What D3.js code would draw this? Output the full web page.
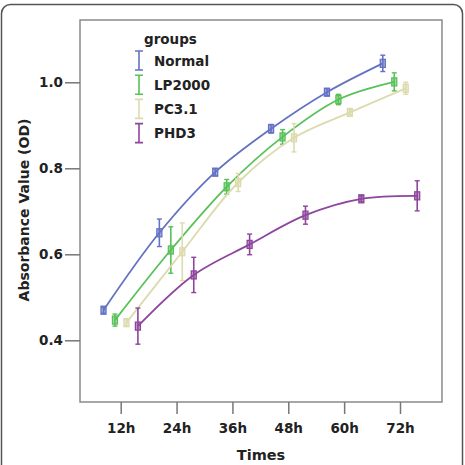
<!DOCTYPE html>
<html>
<head>
<meta charset="utf-8">
<script src="https://cdn.jsdelivr.net/npm/d3@7"></script>
<style>
  html, body { margin: 0; padding: 0; background: #fff; }
  svg text { font-family: "DejaVu Sans", Verdana, sans-serif; font-weight: bold; fill: #222; }
</style>
</head>
<body>
<div id="chart"></div>
<script>
(function () {

    "use strict";

    // Chart values
    var times = ["12h", "24h", "36h", "48h", "60h", "72h"],
        groups = ["Normal", "LP2000", "PC3.1", "PHD3"],
        colors = ["#6472c4", "#58c158", "#dcdbae", "#8e459c"],
        yTicks = [0.4, 0.6, 0.8, 1.0];

    var normalMean = [0.470, 0.650, 0.791, 0.892, 0.977, 1.044],
        normalErr = [0.007, 0.032, 0.008, 0.010, 0.008, 0.019],
        lp2000Mean = [0.447, 0.610, 0.757, 0.873, 0.960, 1.001],
        lp2000Err = [0.014, 0.054, 0.017, 0.017, 0.012, 0.021],
        pc31Mean = [0.441, 0.606, 0.767, 0.871, 0.930, 0.986],
        pc31Err = [0.008, 0.067, 0.021, 0.033, 0.006, 0.014],
        phd3Mean = [0.433, 0.552, 0.623, 0.691, 0.729, 0.736],
        phd3Err = [0.042, 0.041, 0.024, 0.021, 0.007, 0.035];

    var means = [normalMean, lp2000Mean, pc31Mean, phd3Mean],
        errs = [normalErr, lp2000Err, pc31Err, phd3Err];

    var width = 465, height = 465,
        left = 80, top = 20, right = 442, bottom = 402;

    var svg = d3.select("#chart").append("svg")
        .attr("width", width)
        .attr("height", height);

    // outer rounded frame of the figure
    svg.append("rect")
        .attr("x", 1.5).attr("y", 4.5)
        .attr("width", 461).attr("height", 480)
        .attr("rx", 9)
        .attr("fill", "none")
        .attr("stroke", "#555")
        .attr("stroke-width", 1.5);

    var x = d3.scalePoint().domain(times).range([120.7, 400]);
    var xOff = d3.scalePoint().domain(groups).range([-17.2, 17.2]);
    var y = d3.scaleLinear().domain([0.4, 1.0]).range([340.3, 82.3]);

    // plot frame
    svg.append("rect")
        .attr("x", left).attr("y", top)
        .attr("width", right - left).attr("height", bottom - top)
        .attr("fill", "none")
        .attr("stroke", "#8a8a8a")
        .attr("stroke-width", 1.5);

    // axes
    var yAxis = svg.append("g")
        .attr("transform", "translate(" + left + ",0)")
        .call(d3.axisLeft(y).tickValues(yTicks).tickFormat(d3.format(".1f")).tickSize(15).tickPadding(2));
    var xAxis = svg.append("g")
        .attr("transform", "translate(0," + bottom + ")")
        .call(d3.axisBottom(x).tickSize(12).tickPadding(9));

    [yAxis, xAxis].forEach(function (a) {
        a.select(".domain").remove();
        a.selectAll(".tick line").attr("stroke", "#777").attr("stroke-width", 1.5);
        a.selectAll(".tick text").attr("font-size", 13.5).attr("fill", "#222")
            .attr("font-family", "DejaVu Sans, Verdana, sans-serif").attr("font-weight", "bold");
    });

    // axis titles
    svg.append("text")
        .attr("x", 261).attr("y", 460)
        .attr("text-anchor", "middle")
        .attr("font-size", 14.5)
        .text("Times");

    svg.append("text")
        .attr("transform", "translate(29,210) rotate(-90)")
        .attr("text-anchor", "middle")
        .attr("font-size", 14)
        .text("Absorbance Value (OD)");

    // series
    var line = d3.line()
        .x(function (d) { return d.x; })
        .y(function (d) { return d.y; })
        .curve(d3.curveCatmullRom.alpha(0.5));

    groups.forEach(function (g, gi) {
        var pts = times.map(function (t, i) {
            return {x: x(t) + xOff(g), y: y(means[gi][i]), lo: y(means[gi][i] - errs[gi][i]), hi: y(means[gi][i] + errs[gi][i])};
        });
        var grp = svg.append("g").attr("stroke", colors[gi]);

        grp.append("path")
            .attr("d", line(pts))
            .attr("fill", "none")
            .attr("stroke-width", 1.8);

        var eb = grp.selectAll(".eb").data(pts).enter().append("g");
        eb.append("line")
            .attr("x1", function (d) { return d.x; }).attr("x2", function (d) { return d.x; })
            .attr("y1", function (d) { return d.lo; }).attr("y2", function (d) { return d.hi; })
            .attr("stroke-width", 1.6);
        eb.append("line")
            .attr("x1", function (d) { return d.x - 2.5; }).attr("x2", function (d) { return d.x + 2.5; })
            .attr("y1", function (d) { return d.lo; }).attr("y2", function (d) { return d.lo; })
            .attr("stroke-width", 1.4);
        eb.append("line")
            .attr("x1", function (d) { return d.x - 2.5; }).attr("x2", function (d) { return d.x + 2.5; })
            .attr("y1", function (d) { return d.hi; }).attr("y2", function (d) { return d.hi; })
            .attr("stroke-width", 1.4);
        eb.append("rect")
            .attr("x", function (d) { return d.x - 2.5; })
            .attr("y", function (d) { return d.y - 4; })
            .attr("width", 5).attr("height", 8)
            .attr("fill", colors[gi]).attr("fill-opacity", 0.55)
            .attr("stroke-width", 1.3);
    });

    // legend
    var legend = svg.append("g");
    legend.append("text")
        .attr("x", 144).attr("y", 44)
        .attr("font-size", 13.5)
        .text("groups");

    var item = legend.selectAll(".item").data(groups).enter().append("g")
        .attr("transform", function (d, i) { return "translate(0," + (60.5 + i * 24.2) + ")"; });
    item.append("path")
        .attr("d", "M135,-9.5H143M139,-9.5V9.5M135,9.5H143")
        .attr("fill", "none")
        .attr("stroke", function (d, i) { return colors[i]; })
        .attr("stroke-width", 1.6);
    item.append("text")
        .attr("x", 154).attr("y", 5)
        .attr("font-size", 13.5)
        .text(function (d) { return d; });

}());
</script>
</body>
</html>
